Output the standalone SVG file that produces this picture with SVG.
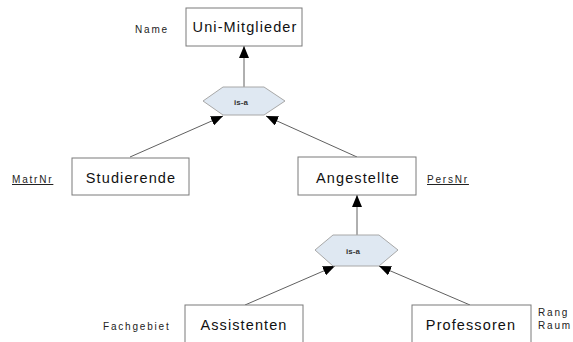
<svg xmlns="http://www.w3.org/2000/svg" width="573" height="342" viewBox="0 0 573 342">
<style>
.box{fill:#fff;stroke:#7a7a7a;stroke-width:1}
.hex{fill:#dfe8f2;stroke:#a8a8a8;stroke-width:1}
.t{font-family:"Liberation Sans",Arial,sans-serif;font-size:14.5px;letter-spacing:1.1px;fill:#111;text-anchor:middle}
.a{font-family:"Liberation Sans",Arial,sans-serif;font-size:10px;letter-spacing:1.8px;fill:#222}
.isa{font-family:"Liberation Sans",Arial,sans-serif;font-size:8px;font-weight:bold;fill:#333;text-anchor:middle}
.c{stroke:#606060;stroke-width:1;fill:none;marker-end:url(#ah)}
</style>
<defs>
<marker id="ah" markerUnits="userSpaceOnUse" viewBox="0 0 12 10" refX="12" refY="5" markerWidth="12" markerHeight="10" orient="auto">
<path d="M0,0 L12,5 L0,10 Z" fill="#000"/>
</marker>
</defs>
<rect width="573" height="342" fill="#fff"/>
<g id="connectors">
<line class="c" x1="244" y1="87" x2="244" y2="46"/>
<line class="c" x1="130" y1="157" x2="223" y2="116"/>
<line class="c" x1="357" y1="157" x2="266" y2="116"/>
<line class="c" x1="357" y1="235" x2="357" y2="195"/>
<line class="c" x1="245" y1="305" x2="335" y2="266"/>
<line class="c" x1="470" y1="305" x2="379" y2="266"/>
</g>
<g id="uni">
<rect class="box" x="186" y="8" width="116" height="38"/>
<text class="t" x="245" y="32">Uni-Mitglieder</text>
<text class="a" x="135" y="33">Name</text>
</g>
<g id="isa1">
<polygon class="hex" points="203,101 223,87 264,87 285,101 264,115 223,115"/>
<text class="isa" x="241" y="105">is-a</text>
</g>
<g id="studierende">
<rect class="box" x="72" y="158" width="117" height="37"/>
<text class="t" x="131" y="183">Studierende</text>
<text class="a" x="12" y="183" text-decoration="underline">MatrNr</text>
</g>
<g id="angestellte">
<rect class="box" x="298" y="157" width="118" height="38"/>
<text class="t" x="358" y="183">Angestellte</text>
<text class="a" x="427" y="183" text-decoration="underline">PersNr</text>
</g>
<g id="isa2">
<polygon class="hex" points="315,250 333,235 379,235 398,250 379,266 333,266"/>
<text class="isa" x="353" y="254">is-a</text>
</g>
<g id="assistenten">
<rect class="box" x="185" y="305" width="118" height="40"/>
<text class="t" x="244" y="330">Assistenten</text>
<text class="a" x="103" y="330">Fachgebiet</text>
</g>
<g id="professoren">
<rect class="box" x="412" y="305" width="119" height="40"/>
<text class="t" x="471" y="330">Professoren</text>
<text class="a" x="538" y="316">Rang</text>
<text class="a" x="538" y="329">Raum</text>
</g>
</svg>
